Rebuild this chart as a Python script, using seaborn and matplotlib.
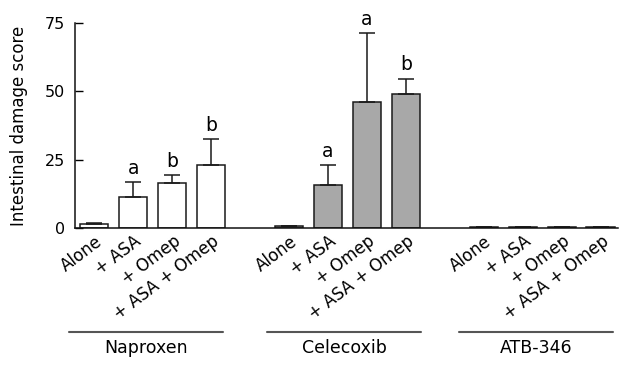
import matplotlib
matplotlib.use("Agg")
import matplotlib.pyplot as plt
import matplotlib.transforms as mtransforms
import seaborn as sns
import pandas as pd
import numpy as np

drugs = ["Naproxen", "Celecoxib", "ATB-346"]
treatments = ["Alone", "+ ASA", "+ Omep", "+ ASA + Omep"]
naproxen_mean = [1.4, 11.5, 16.5, 23.0]
naproxen_sem = [0.6, 5.3, 3.0, 9.5]
celecoxib_mean = [1.0, 15.7, 46.3, 49.0]
celecoxib_sem = [0.0, 7.3, 24.9, 5.7]
atb_mean = [0.4, 0.4, 0.4, 0.4]
atb_sem = [0.0, 0.0, 0.0, 0.0]
naproxen_sig = ["", "a", "b", "b"]
celecoxib_sig = ["", "a", "a", "b"]
atb_sig = ["", "", "", ""]
bar_colors = ["#ffffff", "#a8a8a8", "#111111"]

rows = []
means = [naproxen_mean, celecoxib_mean, atb_mean]
sems = [naproxen_sem, celecoxib_sem, atb_sem]
sigs = [naproxen_sig, celecoxib_sig, atb_sig]
for g, d in enumerate(drugs):
    for i, t in enumerate(treatments):
        rows.append(dict(drug=d, treatment=t, pos=g * 5 + i,
                         mean=means[g][i], sem=sems[g][i], sig=sigs[g][i]))
df = pd.DataFrame(rows)

sns.set_style("ticks")
plt.rcParams['font.family'] = ['DejaVu Sans']
plt.rcParams['text.color'] = 'black'
plt.rcParams['axes.labelcolor'] = 'black'
plt.rcParams['xtick.color'] = 'black'
plt.rcParams['ytick.color'] = 'black'

fig = plt.figure(figsize=(6.3, 3.68), dpi=100)
ax = fig.add_axes([0.119, 0.3796, 0.862, 0.558])

sns.barplot(data=df, x="pos", y="mean", hue="drug", palette=bar_colors,
            native_scale=True, dodge=False, width=0.72, edgecolor="#1a1a1a",
            linewidth=1.1, errorbar=None, legend=False, ax=ax)

# upper-only error bars
ax.errorbar(df["pos"], df["mean"], yerr=[np.zeros(len(df)), df["sem"]],
            fmt="none", ecolor="#1a1a1a", elinewidth=1.1, capsize=5.5,
            capthick=1.1)

for _, r in df.iterrows():
    if r["sig"]:
        ax.annotate(r["sig"], (r["pos"], r["mean"] + r["sem"]),
                    xytext=(0, 3), textcoords="offset points",
                    ha="center", va="bottom", fontsize=13.5)

ax.set_ylim(0, 75)
ax.set_xlim(-0.5, 13.45)
ax.set_yticks([0, 25, 50, 75])
ax.tick_params(axis="y", direction="in", length=6, width=1, pad=7, labelsize=11.5)
ax.set_ylabel("Intestinal damage score", fontsize=12, labelpad=12)
ax.set_xlabel("")
ax.set_xticks(df["pos"])
ax.set_xticklabels(df["treatment"], rotation=37, ha="right",
                   rotation_mode="anchor", va="center", fontsize=12)
ax.tick_params(axis="x", length=0, pad=8)
offset = mtransforms.ScaledTranslation(6 / 100, 0, fig.dpi_scale_trans)
for lbl in ax.get_xticklabels():
    lbl.set_transform(lbl.get_transform() + offset)

for sp in ["top", "right"]:
    ax.spines[sp].set_visible(False)
for sp in ["left", "bottom"]:
    ax.spines[sp].set_linewidth(1.1)
    ax.spines[sp].set_color("#111111")

trans = mtransforms.blended_transform_factory(ax.transData, ax.transAxes)
starts = [-0.66, 4.44, 9.36]
for g, d in enumerate(drugs):
    x0 = starts[g]
    x1 = x0 + 3.96
    ax.plot([x0, x1], [-0.504, -0.504], transform=trans, color="#555555",
            lw=1.5, clip_on=False)
    ax.text((x0 + x1) / 2, -0.585, d, transform=trans, ha="center",
            va="center", fontsize=12.5)

fig.savefig("out.png", dpi=100)
